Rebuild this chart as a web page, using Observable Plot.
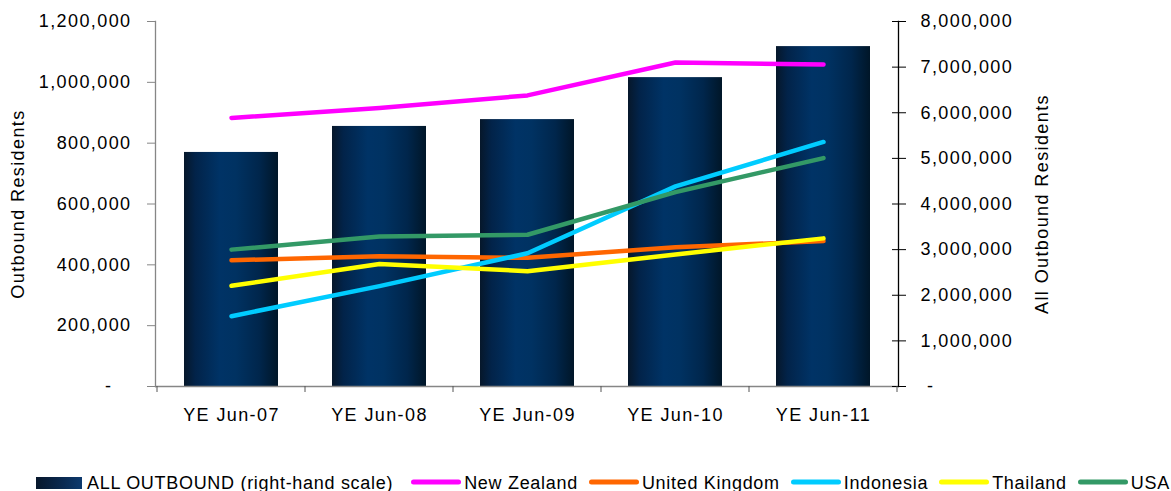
<!DOCTYPE html>
<html><head><meta charset="utf-8">
<script src="https://cdn.jsdelivr.net/npm/d3@7"></script>
<script src="https://cdn.jsdelivr.net/npm/@observablehq/plot@0.6"></script>
<style>
html,body{margin:0;padding:0;background:#fff;overflow:hidden;}
#chart svg text{letter-spacing:1.4px;}
.legend{display:flex;align-items:center;height:24px;padding-left:36px;font-family:"Liberation Sans",Arial,sans-serif;font-size:18px;letter-spacing:0.7px;color:#000;white-space:nowrap;}
.legend .item{display:flex;align-items:center;margin-right:11px;}
.legend .item.first{margin-right:18px;}
.legend .rect{width:46px;height:12px;margin-right:5px;background:linear-gradient(to right,#07172b,#0a2a52 60%,#0d3a6e);}
.legend svg{margin-right:3px;position:relative;top:-1px;}
</style></head><body>
<div id="chart"></div>
<div class="legend" id="legend"></div>
<script>
// ---- data ----
const years = ["YE Jun-07", "YE Jun-08", "YE Jun-09", "YE Jun-10", "YE Jun-11"];
const allOutbound = [5130000, 5700000, 5850000, 6770000, 7450000]; // right-hand scale
const newZealand = [883000, 916000, 957000, 1065000, 1059000];
const unitedKingdom = [415000, 428000, 423000, 458000, 478000];
const indonesia = [231000, 330000, 438000, 658000, 804000];
const thailand = [331000, 403000, 379000, 434000, 487000];
const usa = [450000, 493000, 499000, 639000, 751000];
const leftTicks = [0, 200000, 400000, 600000, 800000, 1000000, 1200000];
const rightTicks = [0, 1000000, 2000000, 3000000, 4000000, 5000000, 6000000, 7000000, 8000000];
const barLabel = "ALL OUTBOUND (right-hand scale)";
const seriesNames = ["New Zealand", "United Kingdom", "Indonesia", "Thailand", "USA"];
const seriesValues = [newZealand, unitedKingdom, indonesia, thailand, usa];
const seriesColors = ["#ff00ff", "#ff6600", "#00ccff", "#ffff00", "#339966"];
const leftTitle = "Outbound Residents";
const rightTitle = "All Outbound Residents";

// ---- derived ----
const leftMax = d3.max(leftTicks), rightMax = d3.max(rightTicks);
const ratio = leftMax / rightMax;
const bars = years.map((year, i) => ({year, value: allOutbound[i]}));
const rows = seriesNames.flatMap((name, s) => years.map((year, i) => ({year, series: name, value: seriesValues[s][i]})));
const num = d3.format(",");
const fmtLeft = d => d === 0 ? "-\u00a0\u00a0\u00a0" : num(d);
const fmtRight = d => d === 0 ? "\u00a0-" : num(Math.round(d / ratio));
const NS = "http://www.w3.org/2000/svg";

function gradientDefs() {
  const defs = document.createElementNS(NS, "defs");
  const lg = document.createElementNS(NS, "linearGradient");
  lg.setAttribute("id", "barGrad");
  lg.setAttribute("x1", "0"); lg.setAttribute("x2", "1"); lg.setAttribute("y1", "0"); lg.setAttribute("y2", "0");
  [[0, "#06172a"], [0.12, "#022349"], [0.38, "#003366"], [0.55, "#003262"], [0.8, "#00264c"], [1, "#001628"]].forEach(([o, c]) => {
    const st = document.createElementNS(NS, "stop");
    st.setAttribute("offset", o); st.setAttribute("stop-color", c);
    lg.appendChild(st);
  });
  defs.appendChild(lg);
  return defs;
}

function boundaryTicks(index, scales) {
  const x = scales.x, y = scales.y;
  const g = document.createElementNS(NS, "g");
  const half = (x.step() - x.bandwidth()) / 2;
  const xs = years.map(yr => x(yr) - half);
  xs.push(x(years[years.length - 1]) + x.bandwidth() + half);
  const y0 = y(0);
  xs.forEach(px => {
    const l = document.createElementNS(NS, "line");
    l.setAttribute("x1", px); l.setAttribute("x2", px);
    l.setAttribute("y1", y0); l.setAttribute("y2", y0 + 6);
    l.setAttribute("stroke", "#555"); l.setAttribute("stroke-width", 1);
    g.appendChild(l);
  });
  return g;
}

const plot = Plot.plot({
  width: 1171,
  height: 471,
  marginTop: 21,
  marginBottom: 85,
  marginLeft: 155,
  marginRight: 273,
  style: {fontFamily: "'Liberation Sans', Arial, sans-serif", fontSize: "18px", background: "white", color: "black", overflow: "visible"},
  x: {domain: years, paddingInner: 0.365, paddingOuter: 0.1825, label: null, axis: null},
  y: {domain: [0, leftMax], label: null, axis: null},
  color: {domain: seriesNames, range: seriesColors},
  marks: [
    gradientDefs,
    Plot.barY(bars, {x: "year", y: d => d.value * ratio, fill: "url(#barGrad)"}),
    Plot.line(rows, {x: "year", y: "value", z: "series", stroke: "series", strokeWidth: 4.5, strokeLinecap: "round", strokeLinejoin: "round"}),
    Plot.ruleY([0], {stroke: "#868686", strokeWidth: 1.3}),
    Plot.frame({anchor: "left", stroke: "#868686", strokeWidth: 1.3}),
    Plot.frame({anchor: "right", stroke: "#000", strokeWidth: 1.3}),
    Plot.axisY(leftTicks, {anchor: "left", tickSize: 8, tickPadding: 16, tickFormat: fmtLeft, stroke: "#868686", fontSize: 18, label: null}),
    Plot.axisY(rightTicks.map(t => t * ratio), {anchor: "right", tickSize: 14, dx: -7, tickPadding: 15, tickFormat: fmtRight, stroke: "#000", fontSize: 18, label: null}),
    Plot.axisX(years, {anchor: "bottom", tickSize: 0, tickPadding: 22, fontSize: 18, label: null}),
    boundaryTicks,
    Plot.text([leftTitle], {text: d => d, frameAnchor: "left", rotate: -90, dx: -137, textAnchor: "middle", lineAnchor: "middle", fontSize: 18}),
    Plot.text([rightTitle], {text: d => d, frameAnchor: "right", rotate: -90, dx: 144, textAnchor: "middle", lineAnchor: "middle", fontSize: 18})
  ]
});
document.getElementById("chart").appendChild(plot);

// ---- legend ----
const legend = document.getElementById("legend");
const first = document.createElement("div");
first.className = "item first";
first.innerHTML = `<span class="rect"></span><span>${barLabel}</span>`;
legend.appendChild(first);
seriesNames.forEach((name, i) => {
  const it = document.createElement("div");
  it.className = "item";
  it.innerHTML = `<svg width="50" height="8"><line x1="2.5" x2="47.5" y1="4" y2="4" stroke="${seriesColors[i]}" stroke-width="5" stroke-linecap="round"/></svg><span>${name}</span>`;
  legend.appendChild(it);
});
</script></body></html>
